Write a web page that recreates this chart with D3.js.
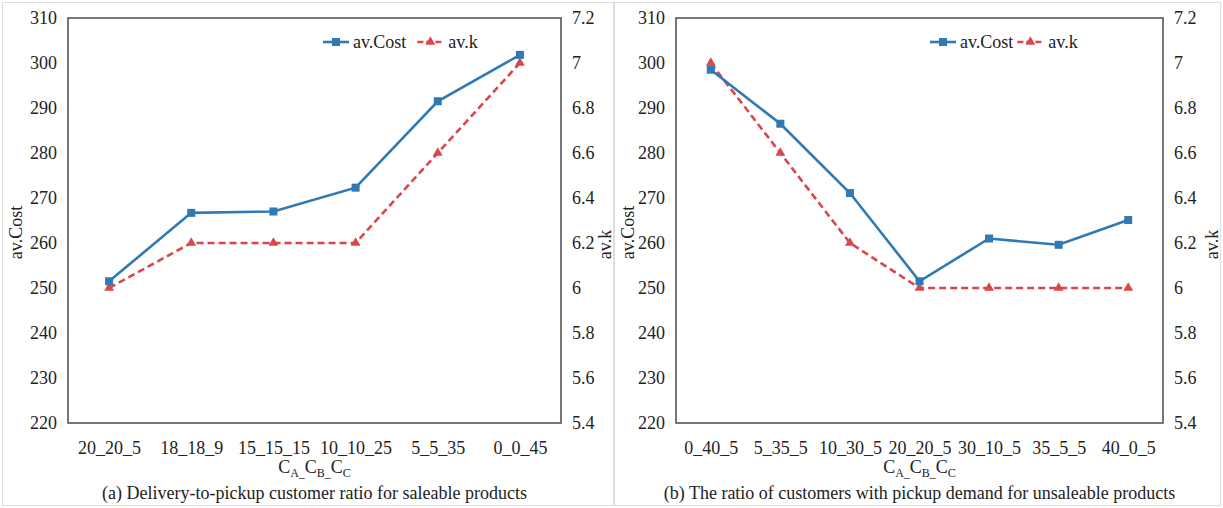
<!DOCTYPE html>
<html>
<head>
<meta charset="utf-8">
<script src="https://cdn.jsdelivr.net/npm/d3@7/dist/d3.min.js"></script>
<style>
	body{margin:0;background:#fff;}
	#chart, #chart text{font-family:"Liberation Serif","Times New Roman",Times,serif !important;}
	#chart text{fill:#222;}
	.axis text{font-size:18px;}
	.axis path{display:none;}
	.title{font-size:18px;}
</style>
</head>
<body>
<svg id="chart" width="1223" height="508"></svg>
<script>
//Data
const categoriesA = ['20_20_5','18_18_9','15_15_15','10_10_25','5_5_35','0_0_45'];
const costA = [251.5,266.7,267.0,272.3,291.5,301.8];
const kA = [6.0,6.2,6.2,6.2,6.6,7.0];

const categoriesB = ['0_40_5','5_35_5','10_30_5','20_20_5','30_10_5','35_5_5','40_0_5'];
const costB = [298.5,286.5,271.1,251.5,261.0,259.6,265.1];
const kB = [7.0,6.6,6.2,6.0,6.0,6.0,6.0];

const costTicks = [220,230,240,250,260,270,280,290,300,310];
const kTicks = [5.4,5.6,5.8,6,6.2,6.4,6.6,6.8,7,7.2];
const subscripts = ['A','B','C'];
const captionA = '(a) Delivery-to-pickup customer ratio for saleable products';
const captionB = '(b) The ratio of customers with pickup demand for unsaleable products';

const BLUE = '#2f79b5';
const RED = '#d9474b';
const FONT = '"Liberation Serif", "Times New Roman", serif';

function DualLine(){
	//factory function
	let _categories = [];
	let _cost = [];
	let _k = [];
	let _caption = '';
	let _margin = {t:18,r:50,b:85,l:66};
	let _legendX = 320;
	let _legendGap = 12;

	function exports(root, width, height){
		const margin = _margin;
		const w = width - margin.l - margin.r;
		const h = height - margin.t - margin.b;

		//panel border
		root.append('rect')
			.attr('x',0.5).attr('y',2.5)
			.attr('width',width-1).attr('height',height-5)
			.style('fill','none')
			.style('stroke','#dedede');

		const plot = root.append('g')
			.attr('transform',`translate(${margin.l},${margin.t})`);

		//Scales
		const scaleX = d3.scalePoint().domain(_categories).range([0,w]).padding(0.5);
		const scaleY = d3.scaleLinear().domain([220,310]).range([h,0]);
		const scaleK = d3.scaleLinear().domain([5.4,7.2]).range([h,0]);

		//Axes (d3 puts sans-serif on the group, take it off)
		plot.append('g')
			.attr('class','axis axis-y')
			.call(d3.axisLeft(scaleY).tickValues(costTicks).tickSize(0).tickPadding(11))
			.attr('font-family',FONT);
		plot.append('g')
			.attr('class','axis axis-k')
			.attr('transform',`translate(${w},0)`)
			.call(d3.axisRight(scaleK).tickValues(kTicks).tickSize(0).tickPadding(11).tickFormat(d3.format('')))
			.attr('font-family',FONT);
		plot.append('g')
			.attr('class','axis axis-x')
			.attr('transform',`translate(0,${h})`)
			.call(d3.axisBottom(scaleX).tickSize(0).tickPadding(18))
			.attr('font-family',FONT);

		//frame
		plot.append('rect')
			.attr('width',w).attr('height',h)
			.style('fill','none')
			.style('stroke','#555')
			.style('stroke-width',1.6);

		//Lines
		const costLine = d3.line().x((d,i) => scaleX(_categories[i])).y(d => scaleY(d));
		const kLine = d3.line().x((d,i) => scaleX(_categories[i])).y(d => scaleK(d));

		plot.append('path')
			.datum(_k)
			.attr('d',kLine)
			.style('fill','none')
			.style('stroke',RED)
			.style('stroke-width',2.6)
			.style('stroke-dasharray','7,4');
		plot.append('path')
			.datum(_cost)
			.attr('d',costLine)
			.style('fill','none')
			.style('stroke',BLUE)
			.style('stroke-width',2.6);

		const tri = d3.symbol().type(d3.symbolTriangle).size(42);
		plot.selectAll('.k-pt')
			.data(_k)
			.enter()
			.append('path')
			.attr('class','k-pt')
			.attr('d',tri)
			.attr('transform',(d,i) => `translate(${scaleX(_categories[i])},${scaleK(d)})`)
			.style('fill',RED);
		plot.selectAll('.cost-pt')
			.data(_cost)
			.enter()
			.append('rect')
			.attr('class','cost-pt')
			.attr('x',(d,i) => scaleX(_categories[i]) - 4)
			.attr('y',d => scaleY(d) - 4)
			.attr('width',8).attr('height',8)
			.style('fill',BLUE);

		//Axis titles
		root.append('text')
			.attr('class','title')
			.attr('transform',`translate(20,${margin.t + h/2 + 12}) rotate(-90)`)
			.style('text-anchor','middle')
			.text('av.Cost');
		root.append('text')
			.attr('class','title')
			.attr('transform',`translate(${width-3},${margin.t + h/2 + 24}) rotate(-90)`)
			.style('text-anchor','middle')
			.text('av.k');

		//C_A_C_B_C_C with subscripts
		const xTitle = root.append('text')
			.attr('class','title')
			.attr('x',margin.l + w/2)
			.attr('y',height - 35)
			.style('text-anchor','middle');
		subscripts.forEach((s,i) => {
			xTitle.append('tspan')
				.attr('dy',i === 0 ? 0 : -4)
				.text('C');
			xTitle.append('tspan')
				.attr('dy',4)
				.style('font-size','12px')
				.text(i < subscripts.length - 1 ? s + '_' : s);
		});

		root.append('text')
			.attr('class','title')
			.attr('x',margin.l + w/2)
			.attr('y',height - 9)
			.style('text-anchor','middle')
			.text(_caption);

		//Legend
		const legend = root.append('g')
			.attr('transform',`translate(${_legendX},42)`);
		legend.append('line')
			.attr('x1',0).attr('x2',26)
			.style('stroke',BLUE).style('stroke-width',2.6);
		legend.append('rect')
			.attr('x',9).attr('y',-4).attr('width',8).attr('height',8)
			.style('fill',BLUE);
		const costLabel = legend.append('text')
			.attr('class','title')
			.attr('x',30).attr('y',6)
			.text('av.Cost');
		const lx = 30 + costLabel.node().getComputedTextLength() + _legendGap;
		legend.append('line')
			.attr('x1',lx).attr('x2',lx + 26)
			.style('stroke',RED).style('stroke-width',2.6)
			.style('stroke-dasharray','6,3');
		legend.append('path')
			.attr('d',tri)
			.attr('transform',`translate(${lx + 13},0)`)
			.style('fill',RED);
		legend.append('text')
			.attr('class','title')
			.attr('x',lx + 31).attr('y',6)
			.text('av.k');
	}

	//Getter/setter
	exports.categories = function(_){
		if(typeof _ === 'undefined') return _categories;
		_categories = _;
		return this;
	}
	exports.cost = function(_){
		if(typeof _ === 'undefined') return _cost;
		_cost = _;
		return this;
	}
	exports.k = function(_){
		if(typeof _ === 'undefined') return _k;
		_k = _;
		return this;
	}
	exports.caption = function(_){
		if(typeof _ === 'undefined') return _caption;
		_caption = _;
		return this;
	}
	exports.margin = function(_){
		if(typeof _ === 'undefined') return _margin;
		_margin = _;
		return this;
	}
	exports.legendX = function(_){
		if(typeof _ === 'undefined') return _legendX;
		_legendX = _;
		return this;
	}
	exports.legendGap = function(_){
		if(typeof _ === 'undefined') return _legendGap;
		_legendGap = _;
		return this;
	}

	return exports;
}

const svg = d3.select('#chart');

const panelA = svg.append('g').attr('transform','translate(2,0)');
DualLine()
	.categories(categoriesA)
	.cost(costA)
	.k(kA)
	.caption(captionA)
	.margin({t:18,r:53,b:85,l:66})
	.legendX(321)
	.legendGap(11)
	.call(null, panelA, 612, 508);

const panelB = svg.append('g').attr('transform','translate(614,0)');
DualLine()
	.categories(categoriesB)
	.cost(costB)
	.k(kB)
	.caption(captionB)
	.margin({t:18,r:58,b:85,l:62})
	.legendX(316)
	.legendGap(4)
	.call(null, panelB, 607, 508);
</script>
</body>
</html>
